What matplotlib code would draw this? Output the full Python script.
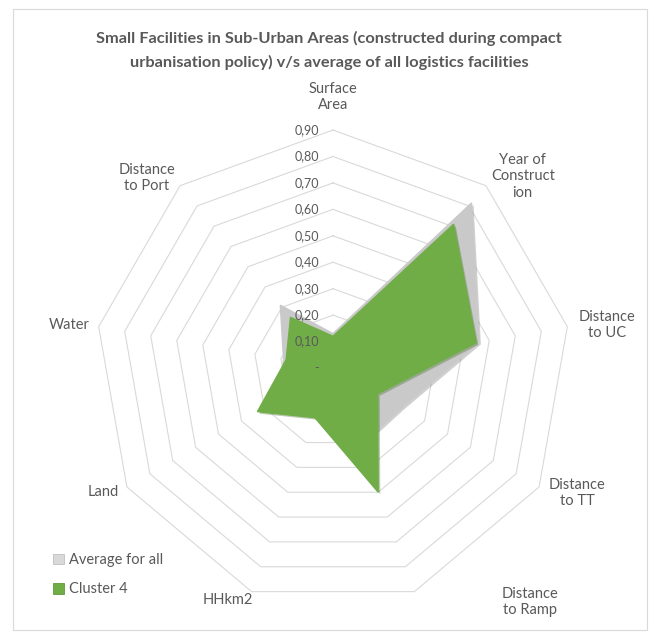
import numpy as np
import matplotlib
matplotlib.use("Agg")
from matplotlib import pyplot as plt
from matplotlib import patheffects as pe
from matplotlib.patches import Patch, Rectangle
import matplotlib.transforms as mtransforms

plt.rcParams['font.family'] = ['Lato', 'DejaVu Sans']

categories = ['Surface\nArea', 'Year of\nConstruct\nion', 'Distance\nto UC', 'Distance\nto TT',
              'Distance\nto Ramp', 'HHkm2', 'Land', 'Water', 'Distance\nto Port']
average_all = [0.13, 0.815, 0.56, 0.30, 0.31, 0.15, 0.24, 0.19, 0.31]
cluster4 = [0.12, 0.71, 0.55, 0.195, 0.50, 0.20, 0.33, 0.18, 0.25]
ring_levels = [0.1, 0.2, 0.3, 0.4, 0.5, 0.6, 0.7, 0.8, 0.9]
tick_labels = ['-', '0,10', '0,20', '0,30', '0,40', '0,50', '0,60', '0,70', '0,80', '0,90']

txt = '#595959'
gridc = '#D9D9D9'

W, H = 649, 632
fig = plt.figure(figsize=(W / 100, H / 100), dpi=100)

# chart border
fig.patches.append(Rectangle((13 / W, 2 / H), 634 / W, 621 / H, transform=fig.transFigure,
                             fill=False, edgecolor=gridc, lw=0.8))

cx, cy, R = 333, 368, 264.4
ax = fig.add_axes([(cx - R) / W, (H - cy - R) / H, 2 * R / W, 2 * R / H], projection='polar')
ax.set_theta_offset(np.pi / 2)
ax.set_theta_direction(-1)
ax.set_ylim(0, 1.0)
ax.set_xticks([])
ax.set_yticks([])
ax.grid(False)
ax.spines['polar'].set_visible(False)
ax.patch.set_alpha(0)

n = len(categories)
angles = np.arange(n) * 2 * np.pi / n
closed = np.append(angles, angles[0])

for lv in ring_levels:
    ax.plot(closed, [lv] * (n + 1), color=gridc, lw=0.8, zorder=1)

shadow = [pe.SimplePatchShadow(offset=(1.5, -1.5), alpha=0.35, rho=0.6), pe.Normal()]
ax.fill(closed, np.append(average_all, average_all[0]), color='#C9C9C9', zorder=2,
        path_effects=shadow)
ax.fill(closed, np.append(cluster4, cluster4[0]), color='#70AD47', zorder=3,
        path_effects=shadow)

# radial value labels
off = mtransforms.offset_copy(ax.transData, fig=fig, x=-10, y=0, units='points')
for i, lab in enumerate(tick_labels):
    ax.text(0, i * 0.1, lab, transform=off, ha='right', va='center',
            fontsize=9, color=txt, zorder=5)

# category labels (Excel places them loosely around the rim)
label_pos = [(0, 1.025), (44.7, 1.02), (81.1, 1.049), (117.1, 1.037), (139.9, 1.157),
             (204.3, 0.963), (241.7, 0.988), (279.3, 1.012), (315.6, 1.006)]
for lab, (deg, r) in zip(categories, label_pos):
    ax.text(np.deg2rad(deg), r, lab, ha='center', va='center', fontsize=10.5,
            color=txt, linespacing=1.2, clip_on=False)

fig.text(329 / W, 1 - 50.5 / H,
         'Small Facilities in Sub-Urban Areas (constructed during compact\n'
         'urbanisation policy) v/s average of all logistics facilities',
         ha='center', va='center', fontsize=11.8, fontweight='bold', color=txt,
         linespacing=1.75)

handles = [Patch(facecolor='#D9D9D9', edgecolor='#BFBFBF', lw=0.6, label='Average for all'),
           Patch(facecolor='#70AD47', edgecolor='#5E9A3A', lw=0.6, label='Cluster 4')]
fig.legend(handles=handles, loc='upper left', bbox_to_anchor=(40 / W, 1 - 540 / H),
           frameon=False, fontsize=10.5, labelcolor=txt, handlelength=0.75, handleheight=0.75,
           handletextpad=0.35, labelspacing=1.05)

fig.savefig('out.png', dpi=100)
